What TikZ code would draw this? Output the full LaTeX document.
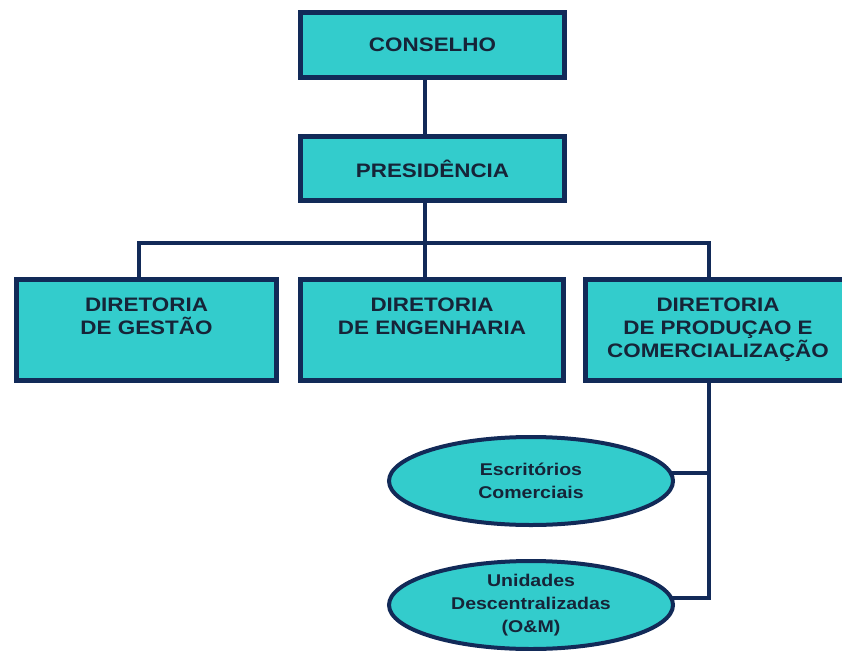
\documentclass[tikz,border=0pt]{standalone}
\usepackage{fontspec}
\setmainfont{Liberation Sans}
\newfontfamily\boxfont[FakeStretch=1.15]{Liberation Sans}
\usetikzlibrary{shapes.geometric,backgrounds}
\definecolor{turq}{RGB}{51,204,204}
\definecolor{navy}{RGB}{18,42,88}
\definecolor{ink}{RGB}{22,36,56}
\begin{document}
\begin{tikzpicture}[x=1pt,y=-1pt,
  orgbox/.style={rectangle,draw=navy,fill=turq,line width=5pt,inner sep=0pt,
    text=ink,align=center,font=\boxfont\bfseries\fontsize{19.5}{23}\selectfont},
  orgell/.style={ellipse,draw=navy,fill=turq,line width=4pt,inner sep=0pt,
    minimum width=284pt,minimum height=88pt,
    text=ink,align=center,font=\boxfont\bfseries\fontsize{17}{23}\selectfont},
  link/.style={draw=navy,line width=4.5pt,line join=miter}]
\useasboundingbox (0,0) rectangle (842,650);
% boxes
\node[orgbox,minimum width=264pt,minimum height=65pt] (cons) at (432.5,45) {CONSELHO};
\node[orgbox,minimum width=264pt,minimum height=64pt] (pres) at (432.5,168.5) {PRESIDÊNCIA};
\node[orgbox,minimum width=260pt,minimum height=101pt] (d1) at (146.5,330) {DIRETORIA\\DE GESTÃO\\[4pt]};
\node[orgbox,minimum width=263pt,minimum height=101pt] (d2) at (432,330) {DIRETORIA\\DE ENGENHARIA\\[4pt]};
\node[orgbox,minimum width=265pt,minimum height=101pt] (d3) at (718,330) {DIRETORIA\\DE PRODUÇAO E\\COMERCIALIZAÇÃO};
% ellipses
\node[orgell] (e1) at (531,481) {Escritórios\\Comerciais};
\node[orgell] (e2) at (531,605) {Unidades\\Descentralizadas\\(O\&M)};
% junction coordinates
\coordinate (spine) at (425,243);
\coordinate (busL) at (139,243);
\coordinate (busR) at (709,243);
\coordinate (j1) at (709,473);
\coordinate (j2) at (709,598);
% connectors (behind the shapes)
\begin{scope}[on background layer]
\fill[white] (0,0) rectangle (842,650);
\draw[link] (cons.south -| spine) -- (pres.north -| spine);
\draw[link] (pres.south -| spine) -- (d2.north -| spine);
\draw[link] (d1.north -| busL) -- (busL) -- (busR) -- (d3.north -| busR);
\draw[link] (d3.south -| j1) -- (j2) -- (e2.center |- j2);
\draw[link] (j1) -- (e1.center |- j1);
\end{scope}
\end{tikzpicture}
\end{document}
